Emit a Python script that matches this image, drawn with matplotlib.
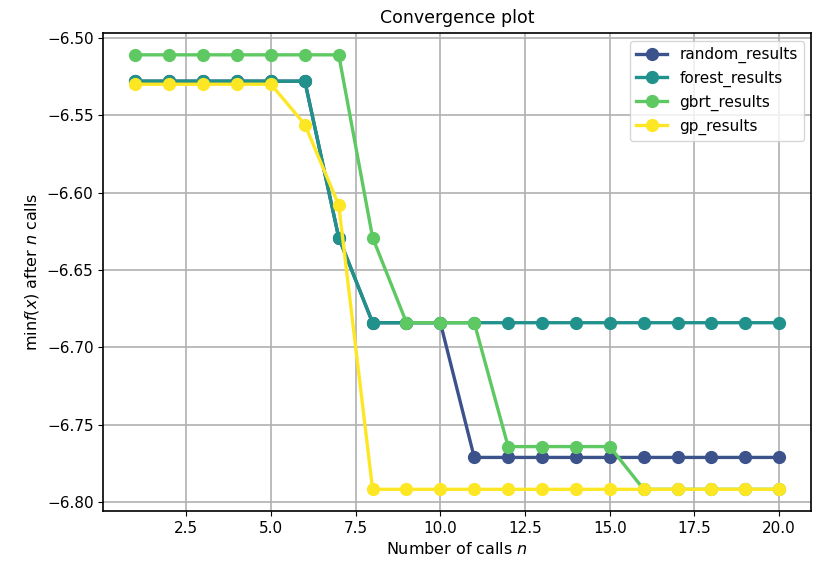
import numpy as np
import matplotlib
matplotlib.use("Agg")
import matplotlib.pyplot as plt
from matplotlib import cm

n_calls = list(range(1, 21))

random_results = [-6.528] * 6 + [-6.629] + [-6.684] * 3 + [-6.771] * 10
forest_results = [-6.528] * 6 + [-6.629] + [-6.684] * 13
gbrt_results = [-6.511] * 7 + [-6.629] + [-6.684] * 3 + [-6.764] * 4 + [-6.7916] * 5
gp_results = [-6.530] * 5 + [-6.556, -6.608] + [-6.7916] * 13

series = [
    ("random_results", random_results),
    ("forest_results", forest_results),
    ("gbrt_results", gbrt_results),
    ("gp_results", gp_results),
]

fig = plt.figure(figsize=(8.13, 5.71), dpi=100)
ax = fig.add_axes([0.127, 0.105, 0.871, 0.837])

colors = cm.viridis(np.linspace(0.25, 1.0, len(series)))
for (name, vals), color in zip(series, colors):
    ax.plot(n_calls, vals, c=color, marker="o", markersize=8.5, lw=2.4, label=name)

ax.set_title("Convergence plot", fontsize=12.5, pad=7)
ax.set_xlabel(r"Number of calls $n$", fontsize=11.5)
ax.set_ylabel(r"$\min f(x)$ after $n$ calls", fontsize=11.5)
ax.tick_params(labelsize=11)
ax.grid(True, color="#b0b0b0", lw=1.2)
ax.legend(loc="best", fontsize=11)
for s in ax.spines.values():
    s.set_linewidth(1.2)

fig.savefig("out.png", dpi=100)
